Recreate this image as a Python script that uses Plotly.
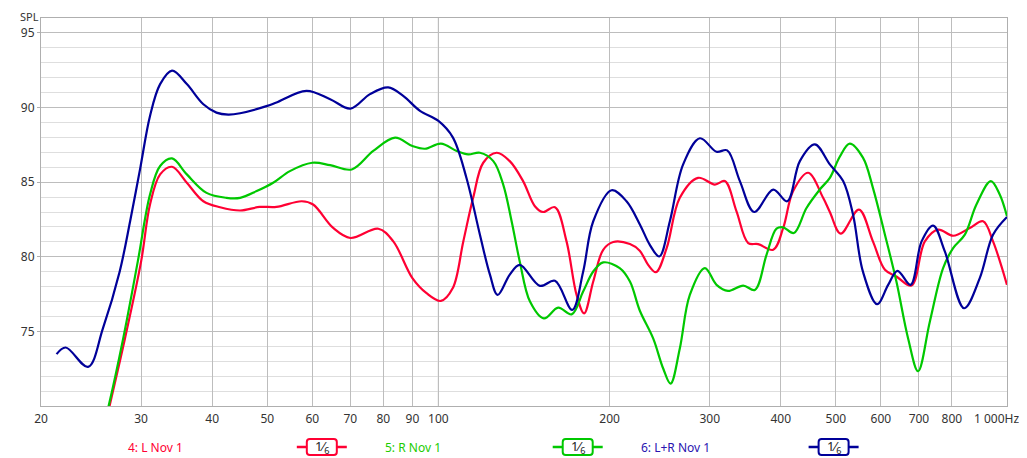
import plotly.graph_objects as go

# ---------------- data ----------------
red_f = [25.8, 26.4, 28.1, 30.0, 31.1, 32.4, 34.0, 36.1, 38.6, 41.3, 44.8, 48.5, 51.9, 57.5, 60.2,
         65.3, 70.0, 78.4, 83.3, 90.0, 95.3, 101, 106, 110.6, 115.1, 119.9, 126.6, 133.5, 140.9,
         147.8, 152.8, 160.3, 168, 175, 180.4, 187.2, 194.9, 203, 217.2, 226, 233.8, 241.3, 252,
         265.8, 286.2, 306.3, 319, 334.4, 350.6, 365, 388, 404, 420.6, 447, 474.9, 488, 510, 549,
         581, 610, 639, 679, 717, 756.6, 804, 860, 907.8, 945, 1000]
red_v = [68.5, 70.0, 74.53, 79.69, 83.5, 85.52, 86.03, 84.96, 83.72, 83.32, 83.1, 83.34, 83.34, 83.72, 83.5,
         81.93, 81.26, 81.88, 81.03, 78.57, 77.56, 77.04, 77.9, 81.03, 83.95, 86.3, 86.97, 86.41, 85.07,
         83.39, 83.0, 83.32, 81.03, 77.44, 76.21, 78.34, 80.47, 80.99, 80.85, 80.4, 79.46, 78.97, 80.58,
         83.95, 85.29, 84.84, 85.07, 83.04, 80.92, 80.85, 80.47, 81.93, 84.4, 85.63, 83.95, 83.0, 81.55, 83.16,
         81.03, 79.13, 78.68, 78.07, 81.03, 81.82, 81.41, 81.93, 82.38, 81.03, 78.12]

green_f = [25.7, 26.3, 27.9, 29.6, 31.1, 32.4, 34.0, 36.1, 39.1, 42.4, 44.8, 47.9, 51.2, 54.8, 60.0,
           64.5, 70.4, 76.8, 83.9, 90.0, 94.7, 101, 107.7, 112.8, 118.3, 124.9, 130, 134.5, 139,
           144.9, 153.3, 162.4, 171.5, 179.7, 187.2, 194.9, 208.4, 217.2, 226, 238.6, 248.5, 256,
           265.8, 276.8, 294.2, 308.4, 323, 343.6, 360.2, 377.6, 393.2, 404, 421.8, 444, 468.6, 488,
           508, 529, 558, 581, 610, 639, 670, 697.6, 731.6, 772, 804, 843, 883.6, 936.6, 971, 1000]
green_v = [68.5, 70.0, 74.53, 79.69, 84.17, 86.08, 86.59, 85.52, 84.28, 83.95, 83.95, 84.4, 84.96, 85.74, 86.3,
           86.14, 85.85, 87.09, 87.98, 87.42, 87.24, 87.58, 87.09, 86.86, 86.97, 86.41, 84.84, 82.38, 79.69,
           77.0, 75.87, 76.59, 76.14, 77.67, 79.01, 79.62, 79.24, 78.34, 76.4, 74.53, 72.51, 71.5,
           73.86, 77.44, 79.24, 78.12, 77.71, 78.07, 77.78, 80.13, 81.88, 81.97, 81.59, 83.27, 84.51, 85.29,
           86.7, 87.58, 86.64, 84.62, 81.48, 78.34, 74.53, 72.33, 75.65, 79.24, 80.58, 81.48, 83.5, 85.07, 84.17, 82.71]

blue_f = [21.3, 22.1, 24.2, 25.7, 27.5, 28.7, 29.9, 31.1, 32.4, 34.0, 36.1, 38.6, 40.7, 42.7, 44.8,
          50.0, 51.9, 58.6, 64.5, 70.0, 75.8, 81.6, 86.7, 92.8, 100, 106, 112, 118.3, 123.2, 127.1,
          133.5, 139, 150.8, 160.3, 171.9, 179.7, 187.2, 201.6, 214.2, 226.2, 235.4, 244.6, 255.3,
          269.4, 288.3, 308.4, 322, 339, 359.2, 388, 410.6, 432.2, 459.2, 488, 515, 536, 558, 591,
          618, 641.8, 676.6, 707.6, 741.4, 777.4, 840.6, 895.6, 945, 1000]
blue_v = [73.48, 73.92, 72.62, 75.2, 79.0, 82.4, 85.96, 89.44, 91.57, 92.47, 91.57, 90.22, 89.66, 89.53, 89.62,
          90.11, 90.34, 91.12, 90.56, 89.93, 90.9, 91.35, 90.78, 89.78, 89.1, 88.0, 85.3, 81.48, 78.8, 77.44,
          78.8, 79.46, 78.05, 78.39, 76.44, 79.0, 82.38, 84.46, 83.72, 82.15, 80.8, 80.02, 82.38,
          86.19, 87.94, 87.04, 87.13, 85.07, 83.0, 84.5, 83.72, 86.41, 87.53, 86.19, 85.07, 82.83, 79.0, 76.82,
          78.12, 79.06, 78.12, 81.03, 82.09, 80.36, 76.55, 78.57, 81.48, 82.67]

series_names = ["4: L Nov 1", "5: R Nov 1", "6: L+R Nov 1"]
series_colors = ["#FF0033", "#00C800", "#000099"]
legend_text_colors = ["#FF0033", "#22CC00", "#2A14B0"]

x_tickvals = [20, 30, 40, 50, 60, 70, 80, 90, 100, 200, 300, 400, 500, 600, 700, 800, 1000]
x_ticktext = ["20", "30", "40", "50", "60", "70", "80", "90", "100", "200", "300", "400",
              "500", "600", "700", "800", ""]
x_last_label = "1 000Hz"
y_tickvals = [75, 80, 85, 90, 95]

FONT = "Noto Sans"

fig = go.Figure()
for f, v, c, n in zip([red_f, green_f, blue_f], [red_v, green_v, blue_v], series_colors, series_names):
    fig.add_trace(go.Scatter(x=f, y=v, mode="lines", name=n,
                             line=dict(color=c, width=2.2, shape="spline", smoothing=1.0),
                             showlegend=False))

# darker 100 Hz grid line
fig.add_shape(type="line", xref="x", yref="paper", x0=100, x1=100, y0=0, y1=1,
              line=dict(color="#7A7A7A", width=1), layer="below")

# last x label (shifted left so it stays inside the page, as in the reference)
fig.add_annotation(x=0.9895, y=0, xref="paper", yref="paper", yshift=-12,
                   text=x_last_label, showarrow=False, xanchor="center", yanchor="middle",
                   font=dict(family=FONT, size=12, color="#333333"))

# legend (custom, bottom row)
legend_text_x = [0.1185, 0.3849, 0.657]
legend_sym_x = [0.2907, 0.5556, 0.8205]
leg_y = -0.1057
for i in range(3):
    fig.add_annotation(x=legend_text_x[i], y=leg_y, xref="paper", yref="paper",
                       text=series_names[i], showarrow=False, xanchor="center", yanchor="middle",
                       font=dict(family=FONT, size=12, color=legend_text_colors[i]))
    fig.add_shape(type="line", xref="paper", yref="paper", xsizemode="pixel", ysizemode="pixel",
                  xanchor=legend_sym_x[i], yanchor=leg_y, x0=-25, x1=25, y0=0, y1=0,
                  line=dict(color=series_colors[i], width=2.5))
    fig.add_shape(type="path", xref="paper", yref="paper", xsizemode="pixel", ysizemode="pixel",
                  xanchor=legend_sym_x[i], yanchor=leg_y,
                  path="M -12,-8 L 12,-8 Q 15,-8 15,-5 L 15,5 Q 15,8 12,8 L -12,8 Q -15,8 -15,5 "
                       "L -15,-5 Q -15,-8 -12,-8 Z",
                  fillcolor="white", line=dict(color=series_colors[i], width=2))
    fig.add_annotation(x=legend_sym_x[i], y=leg_y, xref="paper", yref="paper",
                       text="1⁄<sub>6</sub>", showarrow=False, xanchor="center", yanchor="middle",
                       font=dict(family=FONT, size=13, color="#222222"))

fig.add_annotation(x=-0.0124, y=1.0258, xref="paper", yref="paper", text="SPL", showarrow=False,
                   xanchor="center", yanchor="top", borderpad=0,
                   font=dict(family=FONT, size=11, color="#333333"))

# page body has an 8px default margin: size/margins compensate so the plot lands at the reference spot
fig.update_layout(
    width=1019, height=450,
    margin=dict(l=33, r=19.5, t=10, b=52, autoexpand=False),
    paper_bgcolor="white", plot_bgcolor="white",
    font=dict(family=FONT, size=12, color="#333333"),
    showlegend=False,
    xaxis=dict(type="log", range=[1.30103, 3.0], tickvals=x_tickvals, ticktext=x_ticktext,
               showgrid=True, gridcolor="#BDBDBD", gridwidth=1, zeroline=False,
               showline=True, linecolor="#AFAFAF", linewidth=1, mirror=True, automargin=False,
               ticks="", ticklabelstandoff=2, tickfont=dict(family=FONT, size=12, color="#333333")),
    yaxis=dict(range=[70, 96], tickvals=y_tickvals, automargin=False,
               showgrid=True, gridcolor="#BDBDBD", gridwidth=1, zeroline=False,
               showline=True, linecolor="#AFAFAF", linewidth=1, mirror=True,
               ticks="outside", ticklen=3, tickcolor="#AFAFAF",
               minor=dict(dtick=1, tick0=0, showgrid=True, gridcolor="#DEDEDE", gridwidth=1),
               tickfont=dict(family=FONT, size=12, color="#333333")),
)

fig.write_html("out.html")
